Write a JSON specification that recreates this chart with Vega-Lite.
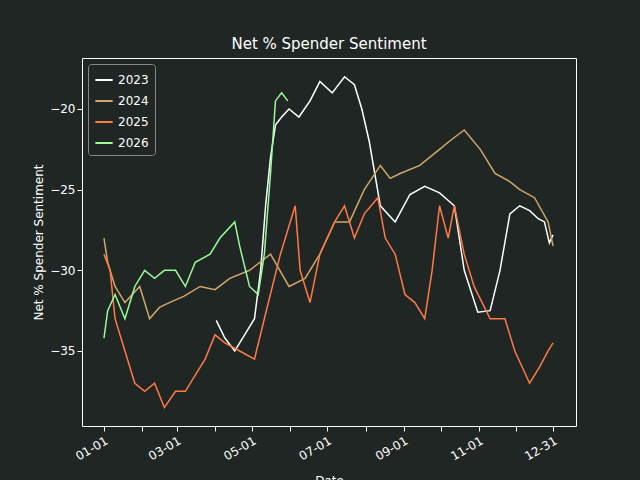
{
  "$schema": "https://vega.github.io/schema/vega-lite/v6.json",
  "width": 494,
  "height": 368,
  "autosize": "none",
  "padding": {"left": 82, "top": 58, "right": 64, "bottom": 54},
  "background": "#1f2624",
  "title": {"text": "Net % Spender Sentiment", "color": "white", "fontSize": 15, "font": "DejaVu Sans", "fontWeight": "normal", "offset": 6},
  "config": {"view": {"fill": "#1f2624", "stroke": "white", "strokeWidth": 1}},
  "datasets": {
    "s": [
      {"year":"2023","day":91,"v":-33.1},{"year":"2023","day":98,"v":-34.2},{"year":"2023","day":106,"v":-35},{"year":"2023","day":114,"v":-34},{"year":"2023","day":122,"v":-33},{"year":"2023","day":127,"v":-30},{"year":"2023","day":131,"v":-26},{"year":"2023","day":135,"v":-23},{"year":"2023","day":139,"v":-21},{"year":"2023","day":144,"v":-20.5},{"year":"2023","day":150,"v":-20},{"year":"2023","day":158,"v":-20.5},{"year":"2023","day":167,"v":-19.5},{"year":"2023","day":175,"v":-18.3},{"year":"2023","day":185,"v":-19},{"year":"2023","day":195,"v":-18},{"year":"2023","day":203,"v":-18.5},{"year":"2023","day":209,"v":-20},{"year":"2023","day":215,"v":-22},{"year":"2023","day":224,"v":-26},{"year":"2023","day":236,"v":-27},{"year":"2023","day":248,"v":-25.3},{"year":"2023","day":260,"v":-24.8},{"year":"2023","day":272,"v":-25.2},{"year":"2023","day":284,"v":-26},{"year":"2023","day":292,"v":-30},{"year":"2023","day":303,"v":-32.6},{"year":"2023","day":313,"v":-32.5},{"year":"2023","day":321,"v":-30},{"year":"2023","day":329,"v":-26.5},{"year":"2023","day":337,"v":-26},{"year":"2023","day":345,"v":-26.3},{"year":"2023","day":352,"v":-26.8},{"year":"2023","day":357,"v":-27},{"year":"2023","day":361,"v":-28.3},{"year":"2023","day":364,"v":-27.8},
      {"year":"2024","day":0,"v":-28},{"year":"2024","day":3,"v":-29.5},{"year":"2024","day":9,"v":-31},{"year":"2024","day":17,"v":-32},{"year":"2024","day":29,"v":-31},{"year":"2024","day":37,"v":-33},{"year":"2024","day":45,"v":-32.3},{"year":"2024","day":53,"v":-32},{"year":"2024","day":65,"v":-31.6},{"year":"2024","day":78,"v":-31},{"year":"2024","day":90,"v":-31.2},{"year":"2024","day":102,"v":-30.5},{"year":"2024","day":118,"v":-30},{"year":"2024","day":135,"v":-29},{"year":"2024","day":150,"v":-31},{"year":"2024","day":163,"v":-30.5},{"year":"2024","day":175,"v":-29},{"year":"2024","day":187,"v":-27},{"year":"2024","day":199,"v":-27},{"year":"2024","day":211,"v":-25},{"year":"2024","day":224,"v":-23.5},{"year":"2024","day":232,"v":-24.3},{"year":"2024","day":240,"v":-24},{"year":"2024","day":256,"v":-23.5},{"year":"2024","day":272,"v":-22.5},{"year":"2024","day":280,"v":-22},{"year":"2024","day":292,"v":-21.3},{"year":"2024","day":305,"v":-22.5},{"year":"2024","day":317,"v":-24},{"year":"2024","day":329,"v":-24.5},{"year":"2024","day":337,"v":-25},{"year":"2024","day":349,"v":-25.5},{"year":"2024","day":360,"v":-27},{"year":"2024","day":364,"v":-28.5},
      {"year":"2025","day":0,"v":-29},{"year":"2025","day":5,"v":-30},{"year":"2025","day":9,"v":-33},{"year":"2025","day":17,"v":-35},{"year":"2025","day":25,"v":-37},{"year":"2025","day":33,"v":-37.5},{"year":"2025","day":41,"v":-37},{"year":"2025","day":49,"v":-38.5},{"year":"2025","day":58,"v":-37.5},{"year":"2025","day":66,"v":-37.5},{"year":"2025","day":74,"v":-36.5},{"year":"2025","day":82,"v":-35.5},{"year":"2025","day":90,"v":-34},{"year":"2025","day":98,"v":-34.5},{"year":"2025","day":110,"v":-35},{"year":"2025","day":122,"v":-35.5},{"year":"2025","day":130,"v":-33},{"year":"2025","day":143,"v":-29},{"year":"2025","day":155,"v":-26},{"year":"2025","day":159,"v":-30},{"year":"2025","day":167,"v":-32},{"year":"2025","day":175,"v":-29},{"year":"2025","day":187,"v":-27},{"year":"2025","day":195,"v":-26},{"year":"2025","day":203,"v":-28},{"year":"2025","day":211,"v":-26.5},{"year":"2025","day":222,"v":-25.5},{"year":"2025","day":228,"v":-28},{"year":"2025","day":236,"v":-29},{"year":"2025","day":244,"v":-31.5},{"year":"2025","day":252,"v":-32},{"year":"2025","day":260,"v":-33},{"year":"2025","day":266,"v":-30},{"year":"2025","day":272,"v":-26},{"year":"2025","day":279,"v":-28},{"year":"2025","day":284,"v":-26},{"year":"2025","day":292,"v":-29},{"year":"2025","day":300,"v":-31},{"year":"2025","day":313,"v":-33},{"year":"2025","day":325,"v":-33},{"year":"2025","day":333,"v":-35},{"year":"2025","day":345,"v":-37},{"year":"2025","day":353,"v":-36},{"year":"2025","day":360,"v":-35},{"year":"2025","day":364,"v":-34.5},
      {"year":"2026","day":0,"v":-34.2},{"year":"2026","day":3,"v":-32.5},{"year":"2026","day":9,"v":-31.5},{"year":"2026","day":17,"v":-33},{"year":"2026","day":25,"v":-31},{"year":"2026","day":33,"v":-30},{"year":"2026","day":41,"v":-30.5},{"year":"2026","day":49,"v":-30},{"year":"2026","day":58,"v":-30},{"year":"2026","day":66,"v":-31},{"year":"2026","day":74,"v":-29.5},{"year":"2026","day":86,"v":-29},{"year":"2026","day":94,"v":-28},{"year":"2026","day":106,"v":-27},{"year":"2026","day":110,"v":-28.5},{"year":"2026","day":118,"v":-31},{"year":"2026","day":125,"v":-31.5},{"year":"2026","day":130,"v":-29},{"year":"2026","day":135,"v":-24},{"year":"2026","day":139,"v":-19.5},{"year":"2026","day":144,"v":-19},{"year":"2026","day":149,"v":-19.5}
    ]
  },
  "data": {"name": "s"},
  "mark": {"type": "line", "strokeWidth": 1.5},
  "encoding": {
    "x": {
      "field": "day", "type": "quantitative",
      "scale": {"domain": [-17.8, 382.6], "nice": false, "zero": false},
      "axis": {
        "title": "Date", "titleColor": "white", "titleFont": "DejaVu Sans", "titleFontWeight": "normal", "titleFontSize": 12, "titlePadding": 14,
        "values": [0,31,59,90,120,151,181,212,243,273,304,334,364],
        "labelExpr": "timeFormat(datetime(2001,0,1+datum.value),'%m-%d')",
        "labelAngle": -30, "labelAlign": "right", "labelColor": "white", "labelFont": "DejaVu Sans", "labelFontSize": 12, "labelPadding": 4,
        "tickColor": "white", "tickSize": 5, "domain": false, "grid": false
      }
    },
    "y": {
      "field": "v", "type": "quantitative",
      "scale": {"domain": [-39.65, -16.84], "nice": false, "zero": false},
      "axis": {
        "title": "Net % Spender Sentiment", "titleColor": "white", "titleFont": "DejaVu Sans", "titleFontWeight": "normal", "titleFontSize": 12,
        "values": [-35,-30,-25,-20], "labelExpr": "replace(datum.label, '-', '−')",
        "labelColor": "white", "labelFont": "DejaVu Sans", "labelFontSize": 12,
        "tickColor": "white", "tickSize": 5, "domain": false, "grid": false
      }
    },
    "color": {
      "field": "year", "type": "nominal",
      "scale": {"domain": ["2023","2024","2025","2026"], "range": ["#ffffff","#d1a76a","#ff7a45","#98fb98"]},
      "legend": {
        "title": null, "orient": "top-left", "offset": 6, "symbolType": "stroke", "symbolSize": 300, "symbolStrokeWidth": 2,
        "labelColor": "white", "labelFont": "DejaVu Sans", "labelFontSize": 12,
        "fillColor": "#1f2624", "strokeColor": "#888888", "padding": 6, "cornerRadius": 3, "rowPadding": 5
      }
    }
  }
}
